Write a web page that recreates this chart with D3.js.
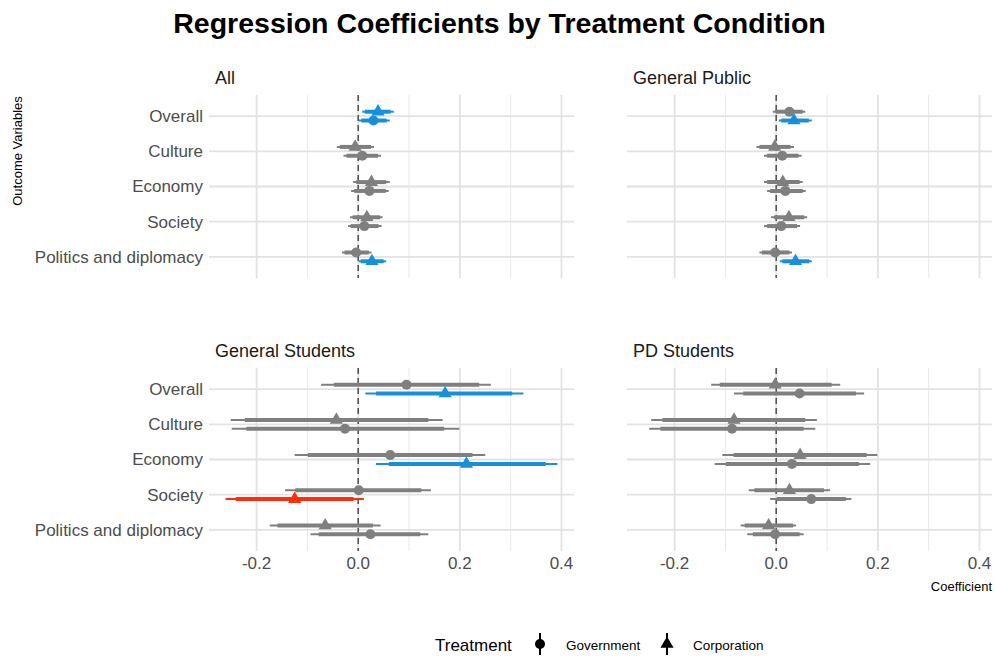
<!DOCTYPE html>
<html>
<head>
<meta charset="utf-8">
<script src="https://cdn.jsdelivr.net/npm/d3@7"></script>
<style>
  body { margin: 0; background: #fff; }
  text { font-family: "Liberation Sans", Arial, sans-serif; }
</style>
</head>
<body>
<div id="chart"></div>
<script>
// categories, top to bottom
const outcomes = ["Overall", "Culture", "Economy", "Society", "Politics and diplomacy"];
const treatments = ["Government", "Corporation"];
const panelNames = ["All", "General Public", "General Students", "PD Students"];
const xTicks = [-0.2, 0.0, 0.2, 0.4];
const xMinorTicks = [-0.1, 0.1, 0.3];
// colour groups, in factor order (used for dodging too)
const sigLevels = ["neg", "pos", "ns"];

// [outcome, treatment, estimate, lo95, hi95, lo90, hi90, significance]
const allRows = [
  ["Overall", "Government", 0.030, 0.001, 0.062, 0.006, 0.056, "pos"],
  ["Overall", "Corporation", 0.039, 0.008, 0.070, 0.013, 0.064, "pos"],
  ["Culture", "Government", 0.008, -0.029, 0.045, -0.023, 0.039, "ns"],
  ["Culture", "Corporation", -0.006, -0.042, 0.031, -0.036, 0.025, "ns"],
  ["Economy", "Government", 0.022, -0.014, 0.060, -0.008, 0.054, "ns"],
  ["Economy", "Corporation", 0.026, -0.010, 0.062, -0.004, 0.055, "ns"],
  ["Society", "Government", 0.012, -0.020, 0.046, -0.015, 0.040, "ns"],
  ["Society", "Corporation", 0.017, -0.016, 0.048, -0.011, 0.043, "ns"],
  ["Politics and diplomacy", "Government", -0.004, -0.032, 0.026, -0.027, 0.021, "ns"],
  ["Politics and diplomacy", "Corporation", 0.027, 0.001, 0.055, 0.005, 0.050, "pos"]
];

const publicRows = [
  ["Overall", "Government", 0.026, -0.007, 0.057, -0.001, 0.052, "ns"],
  ["Overall", "Corporation", 0.035, 0.005, 0.070, 0.010, 0.064, "pos"],
  ["Culture", "Government", 0.012, -0.024, 0.050, -0.018, 0.044, "ns"],
  ["Culture", "Corporation", -0.003, -0.039, 0.035, -0.033, 0.028, "ns"],
  ["Economy", "Government", 0.018, -0.018, 0.058, -0.012, 0.052, "ns"],
  ["Economy", "Corporation", 0.013, -0.024, 0.052, -0.018, 0.046, "ns"],
  ["Society", "Government", 0.010, -0.024, 0.047, -0.018, 0.041, "ns"],
  ["Society", "Corporation", 0.025, -0.010, 0.061, -0.004, 0.055, "ns"],
  ["Politics and diplomacy", "Government", -0.002, -0.033, 0.031, -0.028, 0.026, "ns"],
  ["Politics and diplomacy", "Corporation", 0.038, 0.007, 0.070, 0.012, 0.065, "pos"]
];

const studentRows = [
  ["Overall", "Government", 0.095, -0.073, 0.261, -0.048, 0.238, "ns"],
  ["Overall", "Corporation", 0.171, 0.014, 0.325, 0.035, 0.303, "pos"],
  ["Culture", "Government", -0.026, -0.249, 0.199, -0.220, 0.169, "ns"],
  ["Culture", "Corporation", -0.043, -0.251, 0.166, -0.223, 0.138, "ns"],
  ["Economy", "Government", 0.063, -0.125, 0.250, -0.099, 0.225, "ns"],
  ["Economy", "Corporation", 0.213, 0.035, 0.392, 0.060, 0.369, "pos"],
  ["Society", "Government", 0.001, -0.144, 0.143, -0.124, 0.124, "ns"],
  ["Society", "Corporation", -0.125, -0.261, 0.011, -0.241, -0.009, "neg"],
  ["Politics and diplomacy", "Government", 0.024, -0.094, 0.138, -0.078, 0.122, "ns"],
  ["Politics and diplomacy", "Corporation", -0.065, -0.174, 0.044, -0.159, 0.029, "ns"]
];

const pdRows = [
  ["Overall", "Government", 0.046, -0.083, 0.173, -0.065, 0.157, "ns"],
  ["Overall", "Corporation", -0.002, -0.128, 0.126, -0.111, 0.109, "ns"],
  ["Culture", "Government", -0.087, -0.250, 0.077, -0.228, 0.054, "ns"],
  ["Culture", "Corporation", -0.083, -0.246, 0.080, -0.224, 0.057, "ns"],
  ["Economy", "Government", 0.031, -0.121, 0.185, -0.099, 0.163, "ns"],
  ["Economy", "Corporation", 0.047, -0.106, 0.199, -0.084, 0.178, "ns"],
  ["Society", "Government", 0.069, -0.012, 0.148, 0.001, 0.137, "ns"],
  ["Society", "Corporation", 0.026, -0.054, 0.106, -0.043, 0.094, "ns"],
  ["Politics and diplomacy", "Government", -0.002, -0.057, 0.054, -0.046, 0.046, "ns"],
  ["Politics and diplomacy", "Corporation", -0.015, -0.070, 0.039, -0.062, 0.033, "ns"]
];

const panelRows = [allRows, publicRows, studentRows, pdRows];

const W = 995, H = 658;
const colors = { pos: "#1690d8", neg: "#ff2d0a", ns: "#7f7f7f" };

const svg = d3.select("#chart").append("svg")
  .attr("width", W).attr("height", H);

svg.append("text")
  .attr("x", W / 2 + 2).attr("y", 33)
  .attr("text-anchor", "middle")
  .style("font-size", "28.5px").style("font-weight", "bold")
  .text("Regression Coefficients by Treatment Condition");

// shared x scale domain: data range + 5%
const allVals = panelRows.flat().flatMap(r => [r[3], r[4]]);
const ext = d3.extent(allVals);
const pad = (ext[1] - ext[0]) * 0.05;
const xDomain = [ext[0] - pad, ext[1] + pad];

const panelW = 365, panelH = 183;
const dodge = 0.25;

panelNames.forEach((name, i) => {
  const col = i % 2, row = Math.floor(i / 2);
  const x0 = col ? 627 : 209;
  const y0 = row ? 368 : 95;
  const g = svg.append("g").attr("transform", "translate(" + x0 + "," + y0 + ")");

  const x = d3.scaleLinear().domain(xDomain).range([0, panelW]);
  const y = d3.scalePoint().domain(outcomes).range([0, panelH]).padding(0.6);
  const step = y.step();

  // grid
  g.selectAll(".minor").data(xMinorTicks).enter().append("line")
    .attr("x1", d => x(d)).attr("x2", d => x(d))
    .attr("y1", 0).attr("y2", panelH)
    .attr("stroke", "#e8e8e8").attr("stroke-width", 1);
  g.selectAll(".major").data(xTicks).enter().append("line")
    .attr("x1", d => x(d)).attr("x2", d => x(d))
    .attr("y1", 0).attr("y2", panelH)
    .attr("stroke", "#e2e2e2").attr("stroke-width", 1.8);
  g.selectAll(".hgrid").data(outcomes).enter().append("line")
    .attr("x1", 0).attr("x2", panelW)
    .attr("y1", d => y(d)).attr("y2", d => y(d))
    .attr("stroke", "#e2e2e2").attr("stroke-width", 1.8);

  // zero line
  g.append("line")
    .attr("x1", x(0)).attr("x2", x(0))
    .attr("y1", 0).attr("y2", panelH)
    .attr("stroke", "#555").attr("stroke-width", 1.6)
    .attr("stroke-dasharray", "6,4");

  // strip label
  svg.append("text")
    .attr("x", x0 + 6).attr("y", y0 - 11)
    .style("font-size", "18px").attr("fill", "#1a1a1a")
    .text(name);

  // y labels on left column
  if (col === 0) {
    g.selectAll(".ylab").data(outcomes).enter().append("text")
      .attr("x", -6).attr("y", d => y(d)).attr("dy", "0.35em")
      .attr("text-anchor", "end")
      .style("font-size", "17px").attr("fill", "#4d4d4d")
      .text(d => d);
  }
  // x labels on bottom row
  if (row === 1) {
    g.selectAll(".xlab").data(xTicks).enter().append("text")
      .attr("x", d => x(d)).attr("y", panelH + 18)
      .attr("text-anchor", "middle")
      .style("font-size", "17px").attr("fill", "#4d4d4d")
      .text(d => d.toFixed(1));
  }

  // dodge: order by colour group then treatment; first goes to the bottom
  const rows = panelRows[i].map(r => ({
    outcome: r[0], treatment: r[1], est: r[2],
    lo95: r[3], hi95: r[4], lo90: r[5], hi90: r[6], sig: r[7]
  }));
  outcomes.forEach(o => {
    const pair = rows.filter(r => r.outcome === o);
    pair.sort((a, b) =>
      (sigLevels.indexOf(a.sig) - sigLevels.indexOf(b.sig)) ||
      (treatments.indexOf(a.treatment) - treatments.indexOf(b.treatment)));
    pair.forEach((r, k) => {
      const off = (k === 0 ? 1 : -1) * step * dodge / 2;
      r.yy = y(o) + off;
    });
  });

  const pr = g.selectAll(".pr").data(rows).enter().append("g");
  pr.append("line")
    .attr("x1", d => x(d.lo95)).attr("x2", d => x(d.hi95))
    .attr("y1", d => d.yy).attr("y2", d => d.yy)
    .attr("stroke", d => colors[d.sig]).attr("stroke-width", 2);
  pr.append("line")
    .attr("x1", d => x(d.lo90)).attr("x2", d => x(d.hi90))
    .attr("y1", d => d.yy).attr("y2", d => d.yy)
    .attr("stroke", d => colors[d.sig]).attr("stroke-width", 4);
  pr.filter(d => d.treatment === "Government").append("circle")
    .attr("cx", d => x(d.est)).attr("cy", d => d.yy).attr("r", 5)
    .attr("fill", d => colors[d.sig]);
  pr.filter(d => d.treatment === "Corporation").append("path")
    .attr("d", d3.symbol(d3.symbolTriangle, 75))
    .attr("transform", d => "translate(" + x(d.est) + "," + d.yy + ")")
    .attr("fill", d => colors[d.sig]);
});

// axis titles
svg.append("text")
  .attr("transform", "translate(22,151) rotate(-90)")
  .attr("text-anchor", "middle")
  .style("font-size", "13px")
  .text("Outcome Variables");
svg.append("text")
  .attr("x", 992).attr("y", 591)
  .attr("text-anchor", "end")
  .style("font-size", "13px")
  .text("Coefficient");

// legend
const leg = svg.append("g");
leg.append("text").attr("x", 435).attr("y", 651)
  .style("font-size", "17px").text("Treatment");
const keyX = [540, 667];
treatments.forEach((t, k) => {
  const kx = keyX[k];
  leg.append("line").attr("x1", kx).attr("x2", kx)
    .attr("y1", 633).attr("y2", 655)
    .attr("stroke", "#000").attr("stroke-width", 2);
  if (k === 0) {
    leg.append("circle").attr("cx", kx).attr("cy", 644).attr("r", 5);
  } else {
    leg.append("path").attr("d", d3.symbol(d3.symbolTriangle, 75))
      .attr("transform", "translate(" + kx + ",644)");
  }
  leg.append("text").attr("x", kx + 26).attr("y", 650)
    .style("font-size", "13.5px").text(t);
});
</script>
</body>
</html>
